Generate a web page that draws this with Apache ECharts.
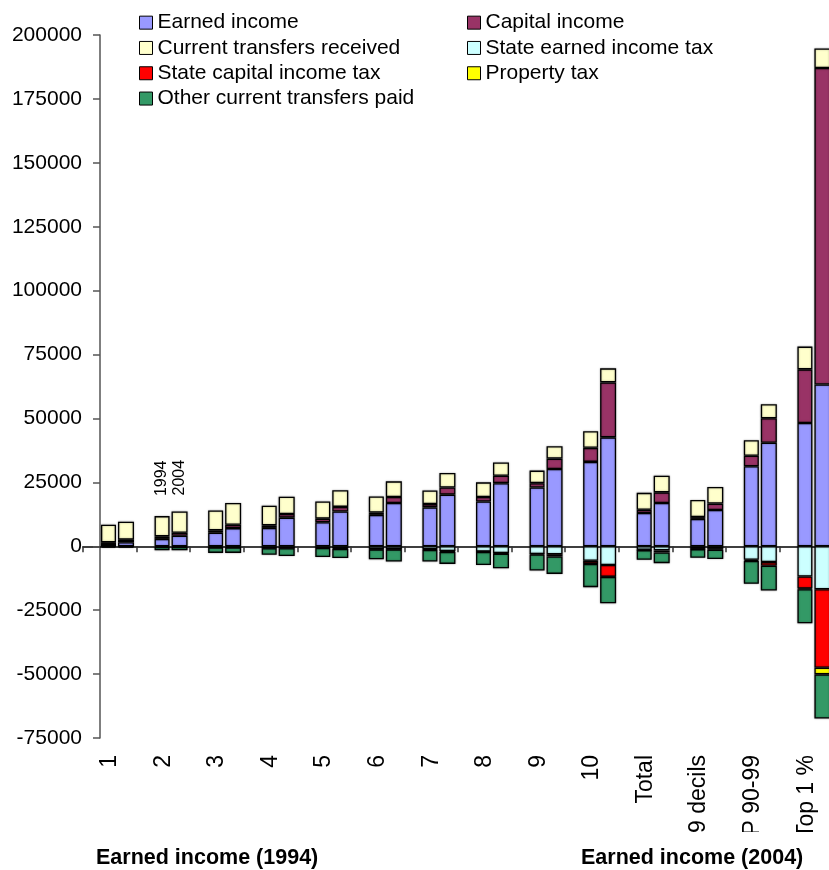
<!DOCTYPE html>
<html>
<head>
<meta charset="utf-8">
<script src="https://cdn.jsdelivr.net/npm/echarts@6/dist/echarts.min.js"></script>
<style>
  html, body { margin: 0; padding: 0; background: #fff; }
  #chart { width: 829px; height: 870px; }
</style>
</head>
<body>
<div id="chart"></div>
<script>
// Income groups (deciles and top groups)
const categories = ['1', '2', '3', '4', '5', '6', '7', '8', '9', '10', 'Total', '1-9 decils', 'P 90-99', 'Top 1 %'];

// Y axis ticks
const yMin = -75000;
const yMax = 200000;
const yStep = 25000;

// 1994 components (per person)
const earned1994    = [900, 2900, 5300, 7200, 9400, 12300, 15200, 17500, 23000, 33000, 13000, 10700, 31300, 48200];
const capital1994   = [700, 1000, 900, 1000, 1400, 900, 1300, 1800, 1700, 5500, 1300, 700, 4100, 21000];
const transfers1994 = [6800, 7900, 7800, 7700, 6700, 6300, 5300, 5700, 4900, 6500, 6600, 6700, 6100, 8900];
const stateTax1994  = [-100, -300, -400, -700, -700, -1100, -1200, -2100, -3000, -5700, -1400, -1000, -5300, -11800];
const capTax1994    = [0, 0, -100, -100, 0, -100, -200, -100, -200, -1200, -100, -100, -400, -4700];
const propTax1994   = [0, 0, 0, 0, 0, 0, 0, 0, 0, 0, 0, 0, 0, -300];
const other1994     = [-500, -1300, -2100, -2500, -3500, -3900, -4600, -5100, -6300, -9100, -3800, -3400, -9000, -13300];

// 2004 components (per person)
const earned2004    = [1600, 4100, 7100, 11200, 13600, 16900, 20200, 24700, 30200, 42600, 16900, 14200, 40500, 63300];
const capital2004   = [1000, 1200, 1300, 1400, 1800, 2400, 2800, 2900, 4100, 21500, 4200, 2500, 9600, 123800];
const transfers2004 = [7000, 8300, 8500, 6800, 6500, 6100, 5700, 5200, 4800, 5500, 6500, 6500, 5500, 7600];
const stateTax2004  = [-100, -300, -400, -700, -700, -1100, -1900, -2700, -3100, -7300, -1600, -1000, -6200, -16800];
const capTax2004    = [0, 0, -100, -100, -300, -100, -300, -200, -900, -4600, -800, -300, -1400, -30700];
const propTax2004   = [0, 0, 0, 0, 0, 0, 0, 0, 0, -100, 0, 0, 0, -2600];
const other2004     = [-500, -1300, -2100, -3000, -3600, -4800, -4700, -5700, -6800, -10300, -4200, -3700, -9700, -17300];

// Year markers printed above the second group
const yearLabels = ['1994', '2004'];
const yearLabelIndex = 1;

const FONT = "'Liberation Sans', Arial, sans-serif";

const components = [
  { name: 'Earned income',                color: '#9999FF', data: [earned1994, earned2004] },
  { name: 'Capital income',               color: '#993366', data: [capital1994, capital2004] },
  { name: 'Current transfers received',   color: '#FFFFCC', data: [transfers1994, transfers2004] },
  { name: 'State earned income tax',      color: '#CCFFFF', data: [stateTax1994, stateTax2004] },
  { name: 'State capital income tax',     color: '#FF0000', data: [capTax1994, capTax2004] },
  { name: 'Property tax',                 color: '#FFFF00', data: [propTax1994, propTax2004] },
  { name: 'Other current transfers paid', color: '#339966', data: [other1994, other2004] }
];

// stack ids are non-numeric so their insertion order is kept in the bar layout
const stacks = ['year1994', 'year2004'];
const stackWidths = [15, 16];
const barGap = '13.3%';

// Invisible spacer column keeps each year pair towards the right of its slot
const series = [{
  type: 'bar',
  name: 'spacer',
  stack: 'spacer',
  barWidth: 13.6,
  barGap: barGap,
  silent: true,
  itemStyle: { opacity: 0 },
  data: categories.map(() => null)
}];

components.forEach((comp) => {
  stacks.forEach((stackId, yi) => {
    const data = comp.data[yi].map((v, i) => {
      const value = v === 0 ? null : v;
      if (comp.name === 'Current transfers received' && i === yearLabelIndex) {
        return {
          value: value,
          label: {
            show: true,
            formatter: yearLabels[yi],
            position: 'top',
            rotate: 90,
            align: 'left',
            verticalAlign: 'middle',
            distance: yi === 0 ? 20 : 16,
            fontFamily: FONT,
            fontSize: 16,
            color: '#000'
          }
        };
      }
      return value;
    });
    series.push({
      type: 'bar',
      name: comp.name,
      stack: stackId,
      barWidth: stackWidths[yi],
      barGap: barGap,
      itemStyle: {
        color: comp.color,
        borderColor: '#000',
        borderWidth: 1.3,
        shadowBlur: 2,
        shadowColor: 'rgba(0,0,0,0.35)'
      },
      emphasis: { disabled: true },
      data: data
    });
  });
});

const legendCommon = {
  orient: 'vertical',
  top: 10,
  padding: 0,
  itemGap: 0,
  itemWidth: 13,
  itemHeight: 13,
  icon: 'rect',
  selectedMode: false,
  itemStyle: { borderColor: '#000', borderWidth: 1, shadowBlur: 0 },
  textStyle: { fontFamily: FONT, fontSize: 21, color: '#000', lineHeight: 25.3 }
};

const titleStyle = { fontFamily: FONT, fontSize: 21.5, fontWeight: 'bold', color: '#000' };

const option = {
  animation: false,
  backgroundColor: '#fff',
  textStyle: { fontFamily: FONT },
  title: [
    { text: 'Earned income (1994)', left: 96, top: 847, padding: 0, z: 10, textStyle: titleStyle },
    { text: 'Earned income (2004)', left: 581, top: 847, padding: 0, z: 10, textStyle: titleStyle }
  ],
  legend: [
    Object.assign({}, legendCommon, { left: 139, data: ['Earned income', 'Current transfers received', 'State capital income tax', 'Other current transfers paid'] }),
    Object.assign({}, legendCommon, { left: 467, data: ['Capital income', 'State earned income tax', 'Property tax'] })
  ],
  grid: { left: 83, top: 35, width: 750, height: 703, containLabel: false, outerBoundsMode: 'none' },
  xAxis: [
    {
      // zero line with slot ticks
      type: 'category',
      data: categories,
      position: 'bottom',
      axisLine: { show: true, onZero: true, lineStyle: { color: '#000', width: 1.5 } },
      axisTick: { show: true, interval: 0, length: 6, lineStyle: { color: '#333', width: 1.5 } },
      axisLabel: { show: false },
      splitLine: { show: false }
    },
    {
      // category names under the plot
      type: 'category',
      data: categories,
      position: 'bottom',
      axisLine: { show: false, onZero: false },
      axisTick: { show: false },
      axisLabel: { rotate: 90, interval: 0, margin: 17, fontFamily: FONT, fontSize: 23, color: '#000' },
      splitLine: { show: false }
    }
  ],
  yAxis: {
    type: 'value',
    min: yMin,
    max: yMax,
    interval: yStep,
    offset: -17,
    axisLine: { show: true, lineStyle: { color: '#555', width: 1.5 } },
    axisTick: { show: true, length: 7, lineStyle: { color: '#555', width: 1.5 } },
    axisLabel: { margin: 18, fontFamily: FONT, fontSize: 21, color: '#000', formatter: (v) => String(v) },
    splitLine: { show: false }
  },
  graphic: [
    // trims the long rotated category names above the footer captions
    { type: 'rect', z: 5, shape: { x: 0, y: 832, width: 829, height: 38 }, style: { fill: '#fff' } }
  ],
  series: series
};

const chart = echarts.init(document.getElementById('chart'), null, { renderer: 'canvas' });
chart.setOption(option);
</script>
</body>
</html>
